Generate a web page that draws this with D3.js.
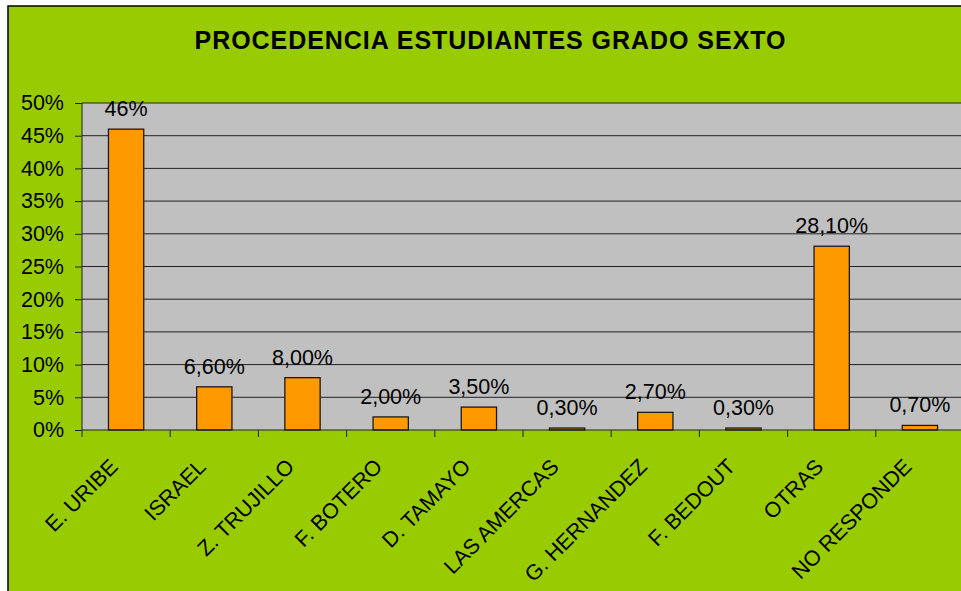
<!DOCTYPE html>
<html>
<head>
<meta charset="utf-8">
<script src="https://cdn.jsdelivr.net/npm/d3@7"></script>
<style>
  body { margin: 0; background: #fff; }
  svg { display: block; font-family: "Liberation Sans", Arial, sans-serif; }
</style>
</head>
<body>
<svg class="chart_svg" width="961" height="591"></svg>
<script>
// data
var categories = ["E. URIBE", "ISRAEL", "Z. TRUJILLO", "F. BOTERO", "D. TAMAYO",
                  "LAS AMERCAS", "G. HERNANDEZ", "F. BEDOUT", "OTRAS", "NO RESPONDE"];
var values = [0.46, 0.066, 0.08, 0.02, 0.035, 0.003, 0.027, 0.003, 0.281, 0.007];
var valueLabels = ["46%", "6,60%", "8,00%", "2,00%", "3,50%", "0,30%", "2,70%", "0,30%", "28,10%", "0,70%"];
var yTicks = [0, 0.05, 0.1, 0.15, 0.2, 0.25, 0.3, 0.35, 0.4, 0.45, 0.5];
var title = "PROCEDENCIA ESTUDIANTES GRADO SEXTO";

var svg = d3.select(".chart_svg");

var plot = {left: 82, right: 964, top: 103, bottom: 430};
var fontSize = "21.5px";

// chart background + border
svg.append("rect")
    .attr("x", 8).attr("y", 6)
    .attr("width", 961).attr("height", 600)
    .attr("fill", "#99cc00")
    .attr("stroke", "#000")
    .attr("stroke-width", 1.5);

svg.append("text")
    .attr("x", 490)
    .attr("y", 49)
    .attr("text-anchor", "middle")
    .style("font-size", "25px")
    .style("font-weight", "bold")
    .attr("textLength", 591)
    .text(title);

var x = d3.scaleBand()
    .domain(categories)
    .range([plot.left, plot.right])
    .paddingInner(0.6)
    .paddingOuter(0.3);

var xTicks = d3.scaleBand().domain(categories).range([plot.left, plot.right]);

var y = d3.scaleLinear()
    .domain([0, 0.5])
    .range([plot.bottom, plot.top]);

// plot area
svg.append("rect")
    .attr("x", plot.left).attr("y", plot.top)
    .attr("width", plot.right - plot.left)
    .attr("height", plot.bottom - plot.top)
    .attr("fill", "#c0c0c0");

// gridlines
svg.append("g")
    .selectAll("line")
    .data(yTicks.slice(1))
    .enter().append("line")
    .attr("x1", plot.left).attr("x2", plot.right)
    .attr("y1", function(d) { return y(d); })
    .attr("y2", function(d) { return y(d); })
    .attr("stroke", "#222")
    .attr("stroke-width", 1);

// y axis
var yAxis = d3.axisLeft(y)
    .tickValues(yTicks)
    .tickFormat(d3.format(".0%"))
    .tickSize(7)
    .tickPadding(11);

var yAxisEl = svg.append("g")
    .attr("transform", "translate(" + plot.left + ",0)")
    .call(yAxis);
yAxisEl.select(".domain").attr("stroke", "#222").attr("d", "M0," + plot.top + "V" + plot.bottom);
yAxisEl.selectAll(".tick line").attr("stroke", "#222");
yAxisEl.selectAll("text")
    .style("font-size", fontSize)
    .attr("fill", "#000")
    .style("font-family", "'Liberation Sans', Arial, sans-serif");

// bars
svg.append("g")
    .selectAll("rect")
    .data(values)
    .enter().append("rect")
    .attr("x", function(d, i) { return x(categories[i]); })
    .attr("y", function(d) { return y(d); })
    .attr("width", x.bandwidth())
    .attr("height", function(d) { return y(0) - y(d); })
    .attr("fill", "#ff9900")
    .attr("stroke", "#1a1a1a")
    .attr("stroke-width", 1.3);

// value labels
svg.append("g")
    .selectAll("text")
    .data(values)
    .enter().append("text")
    .attr("x", function(d, i) { return x(categories[i]) + x.bandwidth() / 2; })
    .attr("y", function(d) { return y(d) - 13; })
    .attr("text-anchor", "middle")
    .style("font-size", fontSize)
    .text(function(d, i) { return valueLabels[i]; });

// x axis: ticks at band boundaries
var xAxisG = svg.append("g");
xAxisG.append("line")
    .attr("x1", plot.left).attr("x2", plot.right)
    .attr("y1", plot.bottom).attr("y2", plot.bottom)
    .attr("stroke", "#222");
xAxisG.selectAll(".xtick")
    .data(categories)
    .enter().append("line")
    .attr("class", "xtick")
    .attr("x1", function(d) { return xTicks(d); })
    .attr("x2", function(d) { return xTicks(d); })
    .attr("y1", plot.bottom).attr("y2", plot.bottom + 7)
    .attr("stroke", "#222");

xAxisG.selectAll(".xlabel")
    .data(categories)
    .enter().append("text")
    .attr("class", "xlabel")
    .attr("transform", function(d) {
        return "translate(" + (xTicks(d) + xTicks.bandwidth() / 2 - 7) + "," + (plot.bottom + 38) + ") rotate(-45)";
    })
    .attr("text-anchor", "end")
    .style("font-size", fontSize)
    .text(function(d) { return d; });
</script>
</body>
</html>
